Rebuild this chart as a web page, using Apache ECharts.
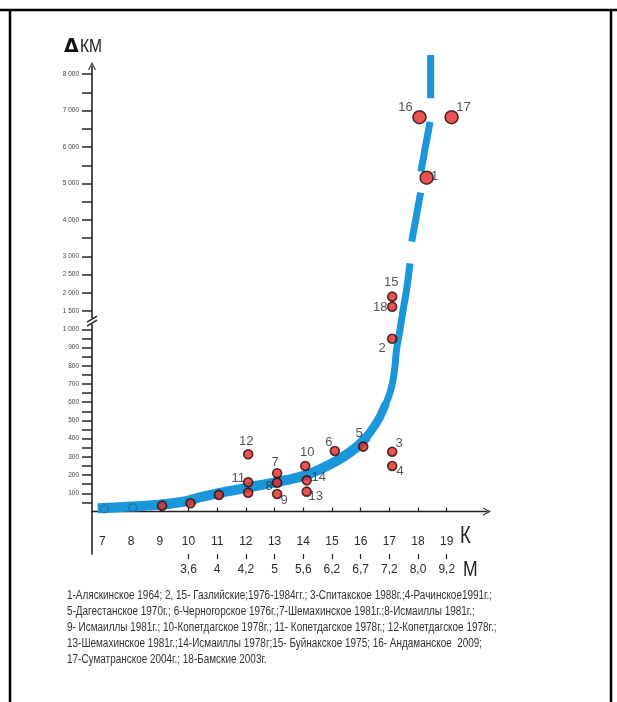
<!DOCTYPE html>
<html>
<head>
<meta charset="utf-8">
<script src="https://cdn.jsdelivr.net/npm/echarts@6/dist/echarts.min.js"></script>
<style>
  html, body { margin: 0; padding: 0; background: #fff; }
  #chart { width: 617px; height: 702px; }
</style>
</head>
<body>
<div id="chart"></div>
<script>
// Energy class K along the horizontal axis and the magnitudes M printed under it
const kTicks = [7, 8, 9, 10, 11, 12, 13, 14, 15, 16, 17, 18, 19];
const mTickK = [10, 11, 12, 13, 14, 15, 16, 17, 18, 19];
const mTickLabels = ['3,6', '4', '4,2', '5', '5,6', '6,2', '6,7', '7,2', '8,0', '9,2'];

// ΔКМ ticks: every 50 up to 1000, every 500 above the break
const kmTicks = [50, 100, 150, 200, 250, 300, 350, 400, 450, 500, 550, 600, 650, 700, 750, 800, 850, 900, 950, 1000,
  1500, 2000, 2500, 3000, 3500, 4000, 4500, 5000, 5500, 6000, 6500, 7000, 7500, 8000];
const kmLabelTicks = [100, 200, 300, 400, 500, 600, 700, 800, 900, 1000, 1500, 2000, 2500, 3000, 4000, 5000, 6000, 7000, 8000];

// Earthquakes: number, energy class K, rupture length ΔКМ
const quakeIds = ['1', '2', '3', '4', '5', '6', '7', '8', '9', '10', '11', '12', '13', '14', '15', '16', '17', '18', '', '', '', ''];
const quakeK   = [18.3, 17.1, 17.1, 17.1, 16.09, 15.1, 13.09, 13.09, 13.09, 14.07, 12.08, 12.08, 14.12, 14.12, 17.1, 18.05, 19.17, 17.1, 12.08, 9.08, 10.07, 11.06];
const quakeKm  = [5160, 948, 328, 250, 356, 332, 210, 158, 96, 250, 160, 314, 109, 171, 1895, 6820, 6820, 1620, 103, 32, 45, 91];

// Open markers on the trend near its start
const openK  = [7.07, 8.06];
const openKm = [13, 21];

// Trend curve (null splits the dashed upper part)
const trendK  = [6.84, 8.06, 9.03, 9.87, 10.39, 11.09, 12.07, 13.08, 14.06, 15.1, 15.87, 16.21, 16.46,
                 16.67, 16.86, 17.02, 17.13, 17.2, 17.25, 17.37, 17.48, 17.6, 17.72,
                 null, 17.78, 18.09, null, 18.1, 18.42, null, 18.44, 18.44];
const trendKm = [18, 27, 38, 55, 77, 102, 132, 162, 198, 272, 354, 410, 464,
                 519, 585, 650, 722, 804, 886, 996, 1530, 2080, 2810,
                 null, 3405, 4750, null, 5325, 6695, null, 7340, 8530];

// Caption lines
const captionLines = [
  '1-Аляскинское 1964; 2, 15- Газлийские;1976-1984гг.; 3-Спитакское 1988г.;4-Рачинское1991г.;',
  '5-Дагестанское 1970г.; 6-Черногорское 1976г.;7-Шемахинское 1981г.;8-Исмаиллы 1981г.;',
  '9- Исмаиллы 1981г.; 10-Копетдагское 1978г.; 11- Копетдагское 1978г.; 12-Копетдагское 1978г.;',
  '13-Шемахинское 1981г.;14-Исмаиллы 1978г;15- Буйнакское 1975; 16- Андаманское  2009;',
  '17-Суматранское 2004г.; 18-Бамские 2003г.'
];

// Broken vertical scale: 100 per unit up to 1000, 500 per unit above
function kmToAxis(v) { return v <= 1000 ? v / 100 : 10 + (v - 1000) / 500; }
function axisToKm(u) { return Math.round(u <= 10 ? u * 100 : 1000 + (u - 10) * 500); }
function fmtKm(v) {
  if (v < 1000) return String(v);
  const r = v % 1000;
  return Math.floor(v / 1000) + ' ' + String(r).padStart(3, '0');
}

const SANS = '"Liberation Sans", Arial, sans-serif';
const INK = '#2b2b2b';
const BLUE = '#1a96da';

// Horizontal squeeze that makes Liberation Sans read like a narrow face
function squeezeFor(text, size, target) {
  const ctx = document.createElement('canvas').getContext('2d');
  ctx.font = size + 'px "Liberation Sans", Arial, sans-serif';
  return target / ctx.measureText(text).width;
}

// Label placement of each numbered marker (offset of label centre from marker centre)
const labelOffsets = {
  '1': [8, -1], '2': [-10, 10], '3': [7, -8], '4': [8, 5], '5': [-4, -13], '6': [-6, -9],
  '7': [-2, -11], '8': [-8, 4], '9': [7, 6], '10': [2, -14], '11': [-10, -4], '12': [-2, -13],
  '13': [9, 5], '14': [12, -3], '15': [-1, -14], '16': [-14, -10], '17': [12, -10], '18': [-12, 1]
};
const bigMarkers = ['1', '16', '17'];

const arrowPath = 'path://M0,0 L5,10 L3.6,10 L0,2.6 L-3.6,10 L-5,10 Z';

const trendData = trendK.map((k, i) => (k === null ? [null, null] : [k, kmToAxis(trendKm[i])]));
// the band is drawn whole, then thickened where it is still flat
const bandFlat = trendData.slice(0, 12);
const bandBend = trendData.slice(9, 15);

const quakeData = quakeIds.map((id, i) => ({
  value: [quakeK[i], kmToAxis(quakeKm[i])],
  symbolSize: bigMarkers.includes(id) ? 13 : 9,
  label: id ? { show: true, position: 'inside', offset: labelOffsets[id], formatter: id } : { show: false }
}));

const chart = echarts.init(document.getElementById('chart'), null, { renderer: 'canvas' });

const yMin = -2.333, yMax = 24.45;
const xMin = 6.637, xMax = 20.404;

const bandLine = (data, width, cap) => ({
  type: 'line', data: data, showSymbol: false, smooth: 0.3, clip: false, connectNulls: false,
  lineStyle: { color: BLUE, width: width, cap: cap, join: 'round' }, z: 2
});

chart.setOption({
  animation: false,
  backgroundColor: '#fff',
  grid: { left: 92, right: 130, top: 66, bottom: 148, containLabel: false },
  xAxis: [
    {
      type: 'value', min: xMin, max: xMax, position: 'bottom',
      splitLine: { show: false },
      axisLine: { show: true, symbol: ['none', arrowPath], symbolSize: [8, 10], lineStyle: { color: '#222', width: 1.3 } },
      axisTick: { show: true, inside: true, length: 4, customValues: kTicks, lineStyle: { color: '#222', width: 1.2 } },
      axisLabel: { show: true, inside: true, margin: 6, customValues: kTicks, color: INK, fontFamily: SANS, fontSize: 12,
        formatter: v => String(Math.round(v)) }
    },
    {
      type: 'value', min: xMin, max: xMax, position: 'bottom',
      splitLine: { show: false },
      axisLine: { show: false },
      axisTick: { show: true, length: 5, customValues: mTickK, lineStyle: { color: '#222', width: 1.2 } },
      axisLabel: { show: true, margin: 10, customValues: mTickK, color: INK, fontFamily: SANS, fontSize: 12,
        formatter: v => mTickLabels[mTickK.indexOf(Math.round(v))] }
    }
  ],
  yAxis: {
    type: 'value', min: yMin, max: yMax,
    splitLine: { show: false },
    axisLine: { show: true, symbol: ['none', arrowPath], symbolSize: [8, 10], lineStyle: { color: '#222', width: 1.6 } },
    axisTick: { show: true, length: 10, customValues: kmTicks.map(kmToAxis), lineStyle: { color: '#333', width: 1.6 } },
    axisLabel: { show: true, margin: 13, customValues: kmLabelTicks.map(kmToAxis), color: '#444', fontFamily: SANS, fontSize: 6.5,
      formatter: u => fmtKm(axisToKm(u)) }
  },
  series: [
    bandLine(trendData, 7, 'butt'),
    bandLine(bandFlat, 10, 'butt'),
    bandLine(bandBend, 8.5, 'round'),
    {
      type: 'scatter', data: openK.map((k, i) => [k, kmToAxis(openKm[i])]),
      symbol: 'circle', symbolSize: 8,
      itemStyle: { color: 'rgba(0,0,0,0)', borderColor: '#245f8e', borderWidth: 1 }, z: 3
    },
    {
      type: 'scatter', data: quakeData, symbol: 'circle', clip: false,
      itemStyle: { color: '#e22a24', borderColor: '#2a0707', borderWidth: 1.6 },
      label: { color: INK, fontFamily: SANS, fontSize: 13 },
      z: 5
    }
  ]
});

// Axis break, titles, caption and frame
const brk = chart.convertToPixel({ xAxisIndex: 0, yAxisIndex: 0 }, [xMin, 10.45]);
const bx = brk[0], by = brk[1];
const capScale = squeezeFor(captionLines[0], 12.5, 425);
chart.setOption({
  graphic: [
    { type: 'rect', shape: { x: bx - 3, y: by - 3, width: 6, height: 6 }, style: { fill: '#fff' }, z: 50 },
    { type: 'line', shape: { x1: bx - 5, y1: by + 1, x2: bx + 5, y2: by - 5 }, style: { stroke: '#222', lineWidth: 1.4 }, z: 51 },
    { type: 'line', shape: { x1: bx - 5, y1: by + 5, x2: bx + 5, y2: by - 1 }, style: { stroke: '#222', lineWidth: 1.4 }, z: 51 },
    { type: 'text', x: 64, y: 47, z: 50,
      style: { text: 'Δ', fontFamily: '"DejaVu Sans", sans-serif', fontWeight: 'bold', fontSize: 19, fill: '#111', verticalAlign: 'middle' } },
    { type: 'text', x: 80, y: 47, scaleX: 0.82, z: 50,
      style: { text: 'КМ', fontFamily: SANS, fontSize: 19, fill: '#222', verticalAlign: 'middle' } },
    { type: 'text', x: 460, y: 537, scaleX: 0.8, z: 50,
      style: { text: 'К', fontFamily: SANS, fontSize: 23, fill: '#222', verticalAlign: 'middle' } },
    { type: 'text', x: 463, y: 570, scaleX: 0.8, z: 50,
      style: { text: 'М', fontFamily: SANS, fontSize: 22, fill: '#222', verticalAlign: 'middle' } },
    ...captionLines.map((t, i) => ({
      type: 'text', x: 67, y: 596 + i * 16, scaleX: capScale, z: 50,
      style: { text: t, fontFamily: SANS, fontSize: 12.5, fill: '#333', verticalAlign: 'middle' }
    })),
    { type: 'line', shape: { x1: 0, y1: 10, x2: 617, y2: 10 }, style: { stroke: '#000', lineWidth: 2.5 }, z: 60 },
    { type: 'line', shape: { x1: 10, y1: 10, x2: 10, y2: 702 }, style: { stroke: '#000', lineWidth: 2.5 }, z: 60 },
    { type: 'line', shape: { x1: 611, y1: 10, x2: 611, y2: 702 }, style: { stroke: '#000', lineWidth: 2.5 }, z: 60 }
  ]
});
</script>
</body>
</html>
